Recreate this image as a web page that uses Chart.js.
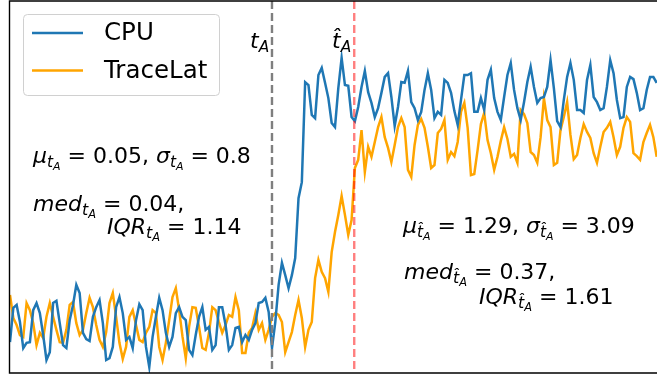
<!DOCTYPE html>
<html>
<head>
<meta charset="utf-8">
<script src="https://cdn.jsdelivr.net/npm/chart.js@4.4.1/dist/chart.umd.min.js"></script>
<style>
  html, body { margin: 0; padding: 0; background: #fff; overflow: hidden; }
  canvas { display: block; }
</style>
</head>
<body>
<canvas id="chartSeries" width="657" height="376"></canvas>
<script>
// values (normalised 0-100)
const cpu = [
  8.3, 17.5, 18.3, 13.7, 6.7, 8.1, 8.3, 16.9, 18.8, 16.1,
  10.2, 3.5, 5.6, 18.8, 19.4, 13.4, 7.5, 6.7, 14.2, 18.3,
  23.7, 21.5, 10.8, 9.1, 8.6, 15.1, 17.7, 19.6, 13.4, 3.5,
  4.0, 7.0, 17.7, 20.4, 16.1, 8.9, 9.7, 6.7, 14.2, 18.5,
  16.9, 7.0, 1.6, 9.7, 15.1, 20.2, 16.9, 10.8, 7.0, 9.7,
  16.1, 17.7, 15.1, 14.2, 6.2, 4.8, 10.2, 15.1, 17.7, 11.6,
  12.4, 6.2, 7.5, 17.7, 17.7, 12.9, 6.2, 7.5, 12.1, 12.4,
  8.3, 10.2, 8.9, 11.6, 13.4, 18.8, 19.1, 20.2, 16.4, 6.7,
  13.7, 23.7, 29.6, 26.3, 22.8, 26.3, 30.9, 47.0, 51.3, 78.2,
  77.4, 69.4, 68.5, 80.1, 82.0, 78.0, 73.9, 67.2, 66.1, 76.6,
  84.7, 77.4, 77.2, 68.8, 67.7, 71.5, 76.9, 81.2, 75.5, 72.6,
  68.8, 71.2, 75.3, 79.6, 80.6, 74.2, 66.4, 71.5, 78.2, 78.0,
  81.2, 72.8, 71.2, 68.0, 70.2, 76.1, 80.6, 76.1, 68.5, 70.2,
  69.4, 78.8, 78.0, 75.3, 70.4, 66.7, 73.4, 80.1, 80.1, 80.6,
  70.2, 70.2, 73.9, 70.7, 78.8, 81.5, 73.9, 70.2, 68.0, 74.2,
  80.1, 83.3, 76.1, 71.2, 68.0, 72.8, 78.2, 82.3, 76.9, 72.6,
  73.9, 74.2, 76.9, 84.1, 76.6, 67.7, 66.1, 73.4, 79.6, 83.3,
  78.8, 70.7, 70.7, 69.9, 78.8, 82.8, 74.2, 72.8, 70.7, 71.2,
  76.9, 84.1, 80.6, 73.4, 68.5, 68.8, 76.9, 79.6, 79.0, 75.3,
  70.7, 71.2, 76.1, 79.6, 79.6, 78.0
];
const traceLat = [
  21.0, 14.8, 12.9, 10.2, 9.7, 18.8, 16.9, 13.4, 7.5, 10.8,
  9.4, 15.1, 18.8, 15.1, 11.6, 8.3, 8.1, 11.6, 18.3, 19.1,
  13.4, 10.2, 11.6, 16.1, 20.2, 17.7, 12.9, 8.9, 7.0, 11.0,
  18.8, 21.5, 15.1, 8.1, 3.8, 7.0, 15.1, 16.9, 12.9, 8.9,
  8.3, 10.8, 12.4, 16.9, 16.1, 7.0, 3.5, 8.1, 14.2, 20.4,
  22.8, 16.9, 9.9, 4.0, 12.4, 17.7, 17.5, 12.4, 6.7, 6.2,
  10.8, 17.7, 16.9, 13.7, 10.8, 12.9, 15.6, 15.1, 20.4, 16.9,
  5.4, 5.4, 10.8, 12.1, 16.1, 11.6, 13.4, 8.9, 11.6, 15.1,
  16.1, 15.6, 13.7, 5.6, 8.3, 11.0, 15.6, 19.6, 14.8, 7.0,
  11.6, 13.7, 25.5, 30.4, 27.2, 25.5, 21.8, 32.5, 37.9, 42.5,
  47.6, 42.5, 37.1, 41.1, 55.1, 57.3, 65.3, 54.0, 60.8, 58.1,
  62.1, 66.1, 68.8, 63.4, 60.5, 56.7, 61.3, 66.1, 68.5, 66.1,
  54.6, 52.7, 61.3, 66.7, 68.3, 65.9, 60.8, 55.1, 55.9, 64.5,
  65.6, 68.0, 57.3, 59.4, 58.3, 62.1, 70.2, 72.6, 65.9, 53.2,
  53.5, 59.9, 66.9, 69.9, 62.6, 59.1, 54.6, 58.1, 62.4, 66.1,
  62.9, 58.1, 58.9, 56.5, 70.7, 69.6, 67.2, 59.4, 58.6, 56.5,
  63.4, 73.9, 68.0, 66.1, 55.9, 56.5, 65.3, 68.8, 72.8, 64.0,
  57.5, 58.6, 63.2, 66.9, 64.8, 63.2, 59.1, 56.5, 60.8, 64.8,
  65.9, 67.5, 63.4, 58.6, 60.8, 65.9, 68.8, 67.5, 59.1, 58.3,
  57.3, 62.1, 64.5, 66.7, 63.4, 58.1
];
const seriesLabels = ['CPU', 'TraceLat'];
const seriesColors = ['#1f77b4', '#ffa500'];

// change points: true and estimated
const tA = 79;
const tHatA = 103.8;

const FONT = "'DejaVu Sans', 'Liberation Sans', sans-serif";

// [text, scale, dy, italic]
const statsLeft = [
  { x: 33, y: 163, parts: [['μ', 1, 0, 1], ['t', 0.7, 4, 1], ['A', 0.5, 7, 1], [' = 0.05, ', 1, 0, 0],
                           ['σ', 1, 0, 1], ['t', 0.7, 4, 1], ['A', 0.5, 7, 1], [' = 0.8', 1, 0, 0]] },
  { x: 33, y: 211, parts: [['med', 1, 0, 1], ['t', 0.72, 4, 1], ['A', 0.52, 7, 1], [' = 0.04,', 1, 0, 0]] },
  { x: 107, y: 234, parts: [['IQR', 1, 0, 1], ['t', 0.72, 4, 1], ['A', 0.52, 7, 1], [' = 1.14', 1, 0, 0]] },
];
const statsRight = [
  { x: 403, y: 233, parts: [['μ', 1, 0, 1], ['t\u0302', 0.7, 4, 1], ['A', 0.5, 7, 1], [' = 1.29, ', 1, 0, 0],
                            ['σ', 1, 0, 1], ['t\u0302', 0.7, 4, 1], ['A', 0.5, 7, 1], [' = 3.09', 1, 0, 0]] },
  { x: 404, y: 279, parts: [['med', 1, 0, 1], ['t\u0302', 0.72, 4, 1], ['A', 0.52, 7, 1], [' = 0.37,', 1, 0, 0]] },
  { x: 479, y: 304, parts: [['IQR', 1, 0, 1], ['t\u0302', 0.72, 4, 1], ['A', 0.52, 7, 1], [' = 1.61', 1, 0, 0]] },
];
const lineLabels = [
  { x: 250, y: 48, parts: [['t', 1, 0, 1], ['A', 0.7, 4, 1]] },
  { x: 332, y: 48, parts: [['t\u0302', 1, 0, 1], ['A', 0.7, 4, 1]] },
];

function drawMath(ctx, x, y, parts, size) {
  ctx.textBaseline = 'alphabetic';
  ctx.textAlign = 'left';
  parts.forEach(([txt, scale, dy, italic]) => {
    ctx.font = (italic ? 'italic ' : '') + (size * scale) + 'px ' + FONT;
    ctx.fillText(txt, x, y + dy);
    x += ctx.measureText(txt).width;
  });
}

const overlayPlugin = {
  id: 'overlay',
  afterDatasetsDraw(chart) {
    const { ctx, chartArea, scales } = chart;
    ctx.save();
    ctx.lineWidth = 2.4;
    ctx.setLineDash([8, 4]);
    [[tA, '#7f7f7f'], [tHatA, 'rgba(255,0,0,0.5)']].forEach(([v, c]) => {
      const px = scales.x.getPixelForValue(v);
      ctx.strokeStyle = c;
      ctx.beginPath();
      ctx.moveTo(px, chartArea.top);
      ctx.lineTo(px, chartArea.bottom);
      ctx.stroke();
    });
    ctx.restore();
  },
  afterDraw(chart) {
    const { ctx, chartArea } = chart;
    ctx.save();
    // frame (right side lies outside the picture)
    ctx.strokeStyle = '#000';
    ctx.lineWidth = 1.4;
    ctx.beginPath();
    ctx.moveTo(chart.width + 5, chartArea.top);
    ctx.lineTo(chartArea.left - 0.5, chartArea.top);
    ctx.lineTo(chartArea.left - 0.5, chartArea.bottom);
    ctx.lineTo(chart.width + 5, chartArea.bottom);
    ctx.stroke();

    // legend
    ctx.fillStyle = 'rgba(255,255,255,0.8)';
    ctx.strokeStyle = '#d0d0d0';
    ctx.lineWidth = 1;
    ctx.beginPath();
    ctx.roundRect(23.5, 14.5, 196, 81, 4);
    ctx.fill();
    ctx.stroke();
    chart.data.datasets.forEach((ds, i) => {
      const yy = 33 + i * 37.5;
      ctx.strokeStyle = ds.borderColor;
      ctx.lineWidth = 2.5;
      ctx.beginPath();
      ctx.moveTo(32, yy);
      ctx.lineTo(83, yy);
      ctx.stroke();
      ctx.fillStyle = '#000';
      ctx.font = '24.5px ' + FONT;
      ctx.textBaseline = 'middle';
      ctx.fillText(ds.label, 104, yy + 1);
    });

    ctx.fillStyle = '#000';
    lineLabels.forEach(l => drawMath(ctx, l.x, l.y, l.parts, 22));
    statsLeft.concat(statsRight).forEach(l => drawMath(ctx, l.x, l.y, l.parts, 22));
    ctx.restore();
  }
};

new Chart(document.getElementById('chartSeries'), {
  type: 'line',
  data: {
    labels: cpu.map((_, i) => i),
    datasets: [cpu, traceLat].map((d, i) => ({
      label: seriesLabels[i],
      data: d.map((v, j) => ({ x: j, y: v })),
      borderColor: seriesColors[i],
      borderWidth: 2.5,
      pointRadius: 0,
      tension: 0,
      fill: false,
    })),
  },
  options: {
    responsive: false,
    animation: false,
    devicePixelRatio: 1,
    layout: { padding: { left: 10, top: 1, right: 0, bottom: 3 } },
    scales: {
      x: { type: 'linear', min: 0, max: 195.1, display: false },
      y: { min: 0, max: 100, display: false },
    },
    plugins: {
      legend: { display: false },
      tooltip: { enabled: false },
    },
  },
  plugins: [overlayPlugin],
});
</script>
</body>
</html>
